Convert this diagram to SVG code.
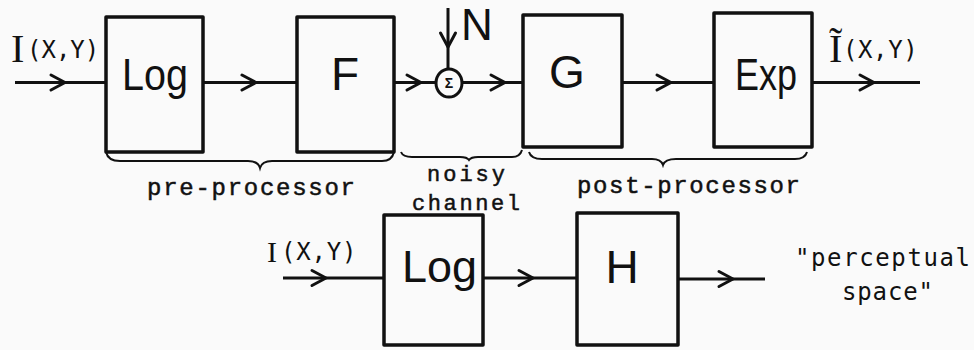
<svg xmlns="http://www.w3.org/2000/svg" width="974" height="350" viewBox="0 0 974 350">
<style>
.box{fill:none;stroke:#111;stroke-width:3.5;stroke-linejoin:round}
.wire{fill:none;stroke:#111;stroke-width:3;marker-mid:url(#chev)}
.brace{fill:none;stroke:#111;stroke-width:2}
.hand{font-family:"Liberation Sans","DejaVu Sans",sans-serif;fill:#111}
.type{font-family:"Liberation Mono","Courier New",monospace;fill:#111;stroke:#111;stroke-width:0.5}
.gothic{font-family:"DejaVu Sans Mono","Liberation Mono",monospace;fill:#111}
.cap{font-family:"Liberation Serif","Times New Roman",serif}
</style>
<defs>
<marker id="chev" markerUnits="userSpaceOnUse" markerWidth="30" markerHeight="30" viewBox="-15 -15 30 30" refX="0" refY="0" orient="auto" overflow="visible">
<path d="M-14,-7.5 L0,0 L-14,7.5" fill="none" stroke="#111" stroke-width="3" stroke-linecap="round" stroke-linejoin="round"/>
</marker>
</defs>
<rect width="974" height="350" fill="#fafafa"/>

<g id="connectors">
<path class="wire" d="M15,82.5 L65,82.5 L106,82.5"/>
<path class="wire" d="M203,82.5 L256,82.5 L297,82.5"/>
<path class="wire" d="M394,82.5 L421,82.5 L436,82.5"/>
<path class="wire" d="M462,82.5 L505,82.5 L523,82.5"/>
<path class="wire" d="M448,8 L448,47 L448,69"/>
<path class="wire" d="M622,82.5 L671,82.5 L714,82.5"/>
<path class="wire" d="M812,82.5 L874,82.5 L920,82.5"/>
<path class="wire" d="M283,278 L326,278 L384,278"/>
<path class="wire" d="M483,278 L533,278 L577,278"/>
<path class="wire" d="M678,279 L733,279 L765,279"/>
</g>

<g id="input-top">
<text class="gothic"><tspan class="cap" x="11" y="62" font-size="40">I</tspan><tspan x="27" y="58" font-size="24">(X,Y)</tspan></text>
</g>
<g id="log-top">
<rect class="box" x="106" y="17" width="97" height="135"/>
<text class="hand" x="122" y="90" font-size="44" textLength="66" lengthAdjust="spacingAndGlyphs">Log</text>
</g>
<g id="f">
<rect class="box" x="297" y="17" width="97" height="135"/>
<text class="hand" x="345" y="90" font-size="46" text-anchor="middle">F</text>
</g>
<g id="sum">
<ellipse cx="449" cy="83" rx="13" ry="14" fill="#fafafa" stroke="#111" stroke-width="3"/>
<text class="hand" x="449" y="88" font-size="14" font-weight="bold" text-anchor="middle">Σ</text>
</g>
<g id="noise">
<text class="hand" x="461" y="40" font-size="44">N</text>
</g>
<g id="g">
<rect class="box" x="523" y="15" width="99" height="132"/>
<text class="hand" x="567" y="88" font-size="46" text-anchor="middle">G</text>
</g>
<g id="exp">
<rect class="box" x="714" y="13" width="98" height="134"/>
<text class="hand" x="735" y="90" font-size="44" textLength="62" lengthAdjust="spacingAndGlyphs">Exp</text>
</g>
<g id="output-top">
<text class="gothic"><tspan class="cap" x="829" y="62" font-size="40">Ĩ</tspan><tspan x="843" y="58" font-size="24" letter-spacing="0.6">(X,Y)</tspan></text>
</g>

<g id="braces">
<path class="brace" d="M106,152 Q108,161 120,161 L248,161 Q258,161 260,168 Q262,161 272,161 L382,161 Q392,161 394,152"/>
<path class="brace" d="M401,152 Q403,157 412,157 L460,157 Q467,157 469,160 Q471,157 478,157 L512,157 Q520,157 522,150"/>
<path class="brace" d="M529,152 Q531,159 542,159 L652,159 Q661,159 663,165 Q665,159 676,159 L795,159 Q805,159 807,152"/>
</g>
<g id="labels">
<text class="type" x="147" y="195" font-size="24" textLength="208" lengthAdjust="spacing">pre-processor</text>
<text class="type" x="427" y="181" font-size="22" textLength="78" lengthAdjust="spacing">noisy</text>
<text class="type" x="412" y="210" font-size="22" textLength="108" lengthAdjust="spacing">channel</text>
<text class="type" x="577" y="193" font-size="24" stroke-width="0.9" textLength="223" lengthAdjust="spacing">post-processor</text>
</g>

<g id="input-bottom">
<text class="gothic"><tspan class="cap" x="267" y="262" font-size="30">I</tspan><tspan x="281" y="260" font-size="24" letter-spacing="0.8">(X,Y)</tspan></text>
</g>
<g id="log-bottom">
<rect class="box" x="384" y="215" width="99" height="130"/>
<text class="hand" x="402" y="282" font-size="44" textLength="75" lengthAdjust="spacingAndGlyphs">Log</text>
</g>
<g id="h">
<rect class="box" x="577" y="213" width="101" height="132"/>
<text class="hand" x="622" y="283" font-size="46" text-anchor="middle">H</text>
</g>
<g id="perceptual">
<text class="gothic" x="795" y="266" font-size="24" textLength="175" lengthAdjust="spacing">"perceptual</text>
<text class="gothic" x="842" y="300" font-size="24" textLength="91" lengthAdjust="spacing">space"</text>
</g>
</svg>
